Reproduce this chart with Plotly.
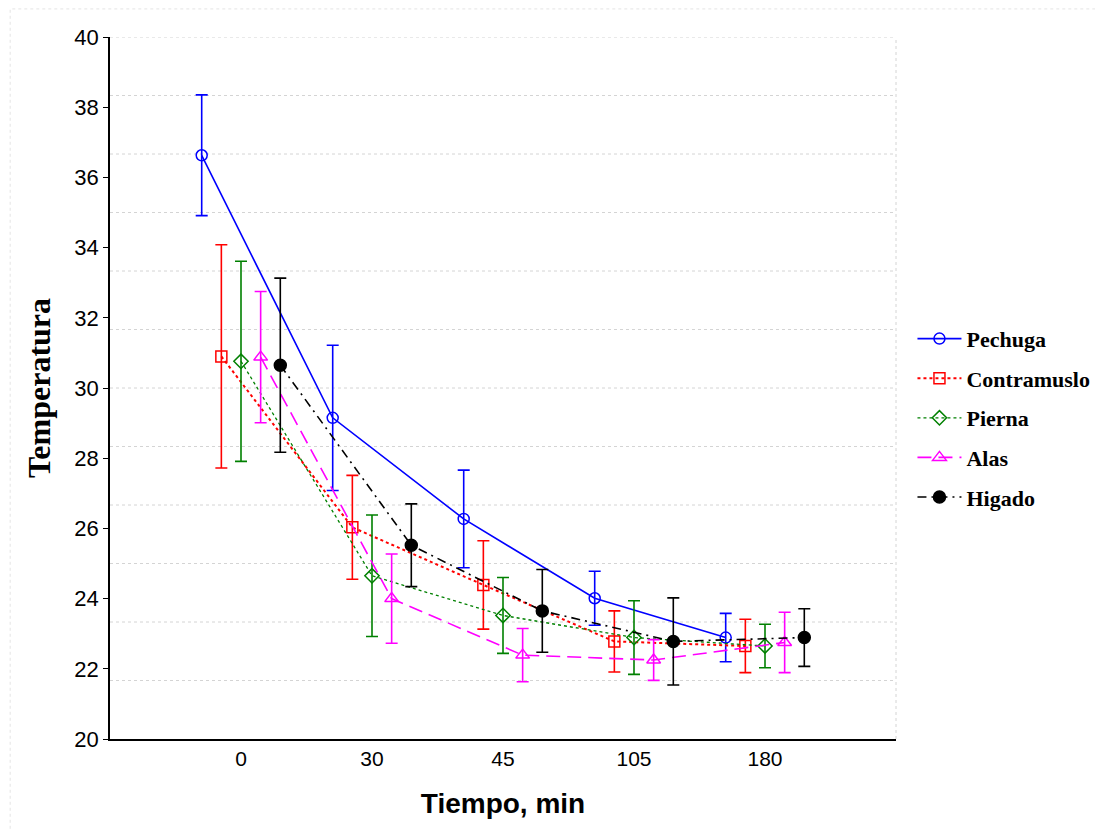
import plotly.graph_objects as go

# ---- data ----
categories = ["0", "30", "45", "105", "180"]

pechuga = [36.63, 29.15, 26.27, 24.01, 22.89]
pechuga_err = [1.72, 2.07, 1.39, 0.77, 0.69]

contramuslo = [30.90, 26.03, 24.39, 22.78, 22.65]
contramuslo_err = [3.18, 1.48, 1.26, 0.87, 0.76]

pierna = [30.76, 24.65, 23.52, 22.89, 22.65]
pierna_err = [2.85, 1.73, 1.08, 1.05, 0.62]

alas = [30.88, 24.00, 22.39, 22.25, 22.75]
alas_err = [1.87, 1.27, 0.76, 0.58, 0.86]

higado = [30.65, 25.52, 23.65, 22.78, 22.89]
higado_err = [2.48, 1.18, 1.18, 1.24, 0.82]

series = [
    ("Pechuga", pechuga, pechuga_err),
    ("Contramuslo", contramuslo, contramuslo_err),
    ("Pierna", pierna, pierna_err),
    ("Alas", alas, alas_err),
    ("Higado", higado, higado_err),
]

# ---- styles ----
styles = {
    "Pechuga": dict(color="#0000FF", dash="solid", lw=1.6, symbol="circle-open", msize=11, offset=-0.3),
    "Contramuslo": dict(color="#FF0000", dash="dot", lw=2.0, symbol="square-open", msize=11, offset=-0.15),
    "Pierna": dict(color="#008000", dash="dot", lw=1.3, symbol="diamond-open", msize=11, offset=0.0),
    "Alas": dict(color="#FF00FF", dash="14px,7px", lw=1.6, symbol="triangle-up-open", msize=12, offset=0.15),
    "Higado": dict(color="#000000", dash="9px,5px,2px,5px", lw=1.6, symbol="circle", msize=12, offset=0.3),
}

fig = go.Figure()
for name, vals, errs in series:
    s = styles[name]
    xs = [i + s["offset"] for i in range(len(categories))]
    fig.add_trace(go.Scatter(
        x=xs, y=vals, name=name, mode="lines+markers",
        legendgroup=name,
        line=dict(color=s["color"], dash=s["dash"], width=s["lw"]),
        marker=dict(symbol=s["symbol"], size=s["msize"], color=s["color"],
                    line=dict(color=s["color"], width=1.5)),
        error_y=dict(type="data", array=errs, visible=True, color=s["color"],
                     thickness=1.6, width=6),
    ))

# custom gridlines (12 intervals between 20 and 40)
shapes = []
for k in range(1, 13):
    yv = 20 + k * 20 / 12
    shapes.append(dict(type="line", xref="paper", yref="y", x0=0, x1=1, y0=yv, y1=yv,
                       line=dict(color="#d4d4d4", width=1, dash="dot"), layer="below"))
shapes.append(dict(type="line", xref="paper", yref="paper", x0=1, x1=1, y0=0, y1=1,
                   line=dict(color="#d4d4d4", width=1, dash="dot"), layer="below"))
# faint outer frame
shapes.append(dict(type="rect", xref="paper", yref="paper", x0=-0.127, x1=1.4, y0=-0.3, y1=1.04,
                   line=dict(color="#e4e4e4", width=1, dash="dot"), layer="below"))

fig.update_layout(
    width=1103, height=829,
    margin=dict(l=102, r=215, t=29, b=98),
    paper_bgcolor="white", plot_bgcolor="white",
    showlegend=True,
    shapes=shapes,
    legend=dict(
        xref="container", yref="paper",
        x=0.820, xanchor="left", y=0.600, yanchor="top",
        font=dict(family="Liberation Serif, Times New Roman, serif", size=22, color="black", weight="bold"),
        tracegroupgap=8, traceorder="grouped", itemwidth=44,
        bgcolor="rgba(0,0,0,0)",
    ),
    xaxis=dict(
        range=[-1, 5], tickvals=list(range(len(categories))), ticktext=categories,
        showgrid=False, zeroline=False, showline=True, linecolor="black", linewidth=2,
        ticks="", tickfont=dict(family="Liberation Sans, Arial, sans-serif", size=21, color="black"),
        title=dict(text="Tiempo, min", standoff=24,
                   font=dict(family="Liberation Sans, Arial, sans-serif", size=28, color="black", weight="bold")),
    ),
    yaxis=dict(
        range=[20, 40], tick0=20, dtick=2,
        showgrid=False, zeroline=False, showline=True, linecolor="black", linewidth=1.5,
        ticks="outside", ticklen=5, tickwidth=1, tickcolor="black",
        tickfont=dict(family="Liberation Sans, Arial, sans-serif", size=22, color="black"),
        title=dict(text="Temperatura", standoff=14,
                   font=dict(family="Liberation Serif, Times New Roman, serif", size=32, color="black", weight="bold")),
    ),
)

fig.write_html("out.html")
